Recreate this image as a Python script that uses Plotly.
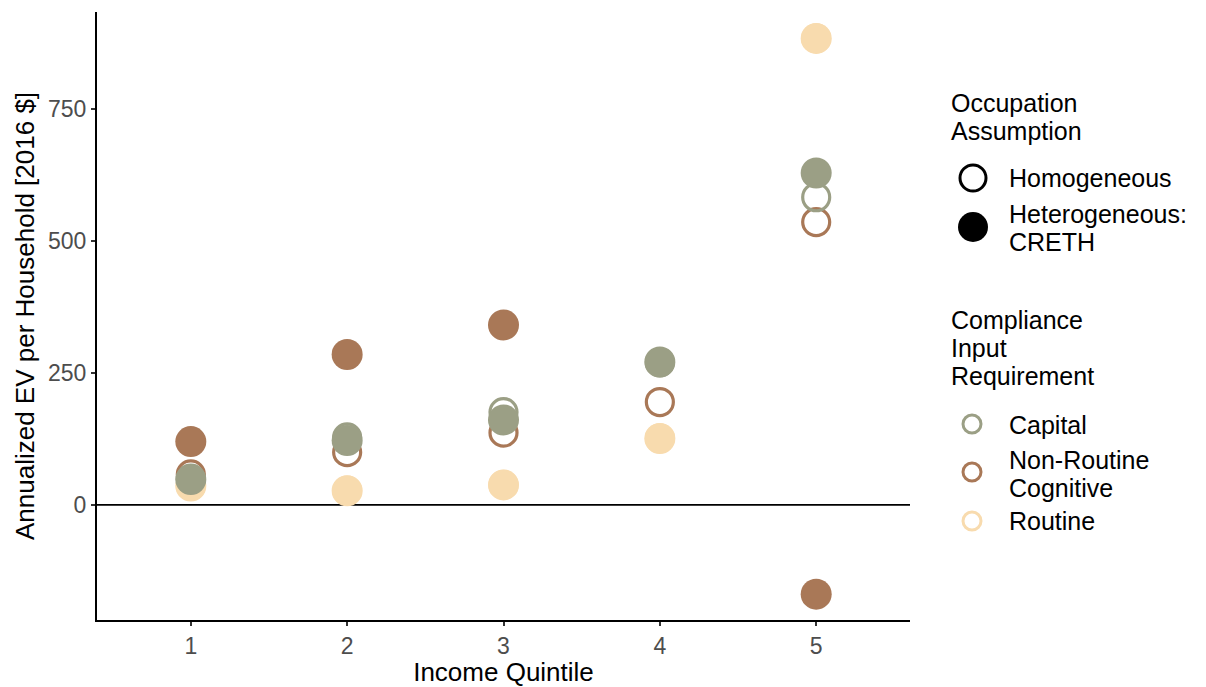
import plotly.graph_objects as go

# Income quintiles on the x axis
quintiles = [1, 2, 3, 4, 5]

# Annualized EV per household [2016 $] by compliance input and occupation assumption
capital_homog = [50, 128, 176, 270, 583]
capital_heter = [48, 122, 161, 271, 629]
nrc_homog = [58, 100, 137, 195, 536]
nrc_heter = [120, 285, 341, None, -169]
routine_homog = [36, 27, 38, 126, 884]
routine_heter = [36, 27, 38, 126, 884]

y_ticks = [0, 250, 500, 750]

col_capital = "#9b9f85"
col_nrc = "#a97857"
col_routine = "#f8dbae"

FONT = "Liberation Sans, Arial, sans-serif"
TXT = 25

W, H = 1206, 687
L, T, B = 97, 12, 67
PLOT_RIGHT = 910          # right end of the data panel, px
KEY_LEFT = 930            # left end of the key panel, px
paper_w = W - L

fig = go.Figure()

series = [
    (routine_homog, routine_heter, col_routine),
    (nrc_homog, nrc_heter, col_nrc),
    (capital_homog, capital_heter, col_capital),
]

OPEN = dict(symbol="circle-open", size=27)
FILLED = dict(symbol="circle", size=31)

for homog, heter, col in series:
    fig.add_trace(go.Scatter(
        x=quintiles, y=homog, mode="markers", showlegend=False, hoverinfo="skip",
        marker=dict(**OPEN, color=col, line=dict(width=3.2, color=col)),
    ))
    fig.add_trace(go.Scatter(
        x=quintiles, y=heter, mode="markers", showlegend=False, hoverinfo="skip",
        marker=dict(**FILLED, color=col, line=dict(width=0)),
    ))

# ---- key panel (pixel-unit axes to the right of the data panel) ----
key_shape_x = 973
key_text_x = 1007
key_title_x = 949
# occupation assumption: shape key
fig.add_trace(go.Scatter(
    x=[key_shape_x], y=[178], xaxis="x2", yaxis="y2", mode="markers",
    showlegend=False, hoverinfo="skip",
    marker=dict(symbol="circle-open", size=26, color="black", line=dict(width=3, color="black")),
))
fig.add_trace(go.Scatter(
    x=[key_shape_x], y=[227], xaxis="x2", yaxis="y2", mode="markers",
    showlegend=False, hoverinfo="skip",
    marker=dict(symbol="circle", size=30, color="black"),
))
# compliance input requirement: colour key
for yy, col in [(424, col_capital), (472, col_nrc), (521, col_routine)]:
    fig.add_trace(go.Scatter(
        x=[key_shape_x - 1], y=[yy], xaxis="x2", yaxis="y2", mode="markers",
        showlegend=False, hoverinfo="skip",
        marker=dict(symbol="circle-open", size=18, color=col, line=dict(width=3, color=col)),
    ))

key_lines = [
    (key_title_x, 103, "Occupation"),
    (key_title_x, 131, "Assumption"),
    (key_text_x, 178, "Homogeneous"),
    (key_text_x, 214, "Heterogeneous:"),
    (key_text_x, 242, "CRETH"),
    (key_title_x, 320, "Compliance"),
    (key_title_x, 348, "Input"),
    (key_title_x, 376, "Requirement"),
    (key_text_x, 425, "Capital"),
    (key_text_x, 460, "Non-Routine"),
    (key_text_x, 488, "Cognitive"),
    (key_text_x, 521, "Routine"),
]
for kx, ky, txt in key_lines:
    fig.add_annotation(
        x=kx, y=ky, xref="x2", yref="y2", text=txt, showarrow=False,
        xanchor="left", yanchor="middle", font=dict(size=TXT, family=FONT, color="black"),
    )

fig.add_hline(y=0, line=dict(color="black", width=1.8), layer="below")

axis_common = dict(
    showgrid=False, zeroline=False, showline=True, linecolor="black", linewidth=2,
    ticks="outside", ticklen=4, tickcolor="#333333", tickwidth=1.6,
    tickfont=dict(size=23, color="#4d4d4d", family=FONT),
)

fig.update_layout(
    width=W, height=H,
    margin=dict(l=L, r=0, t=T, b=B),
    plot_bgcolor="white", paper_bgcolor="white",
    font=dict(family=FONT, color="black"),
    showlegend=False,
    xaxis=dict(
        domain=[0, (PLOT_RIGHT - L) / paper_w],
        range=[0.4, 5.6], tickvals=quintiles, ticktext=[str(q) for q in quintiles],
        title=dict(text="Income Quintile", font=dict(size=26, family=FONT), standoff=3),
        **axis_common,
    ),
    yaxis=dict(
        range=[-218, 934], tickvals=y_ticks, ticktext=[str(v) for v in y_ticks],
        title=dict(text="Annualized EV per Household [2016 $]", font=dict(size=26, family=FONT), standoff=6),
        **axis_common,
    ),
    xaxis2=dict(
        domain=[(KEY_LEFT - L) / paper_w, 1], range=[KEY_LEFT, W],
        visible=False, fixedrange=True,
    ),
    yaxis2=dict(
        anchor="x2", domain=[0, 1], range=[H - B, T],
        visible=False, fixedrange=True,
    ),
)

fig.write_html("out.html")
